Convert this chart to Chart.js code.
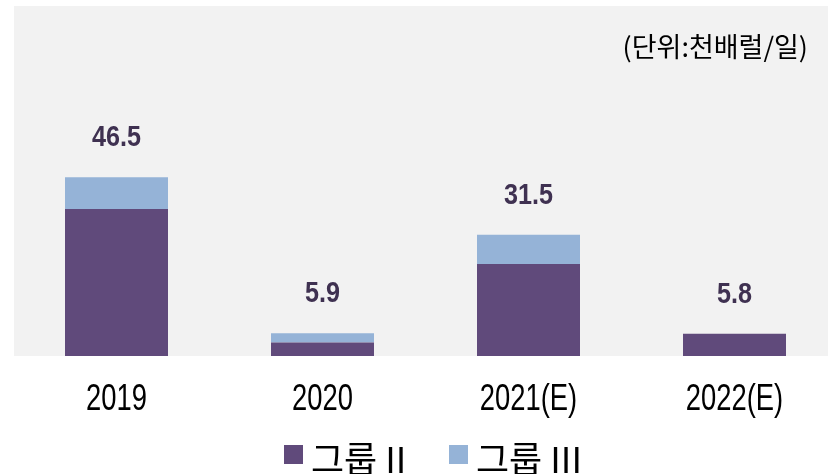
<!DOCTYPE html>
<html>
<head>
<meta charset="utf-8">
<script src="https://cdn.jsdelivr.net/npm/chart.js@4.4.1/dist/chart.umd.min.js"></script>
<style>
  html, body { margin: 0; padding: 0; background: #fff; overflow: hidden; }
  #wrap { width: 840px; height: 474px; }
</style>
</head>
<body>
<div id="wrap"><canvas id="chart" width="840" height="474"></canvas></div>
<script>
// data (thousand barrels / day)
const years = ['2019', '2020', '2021(E)', '2022(E)'];
const groupII = [38.2, 3.5, 23.9, 5.8];
const groupIII = [8.3, 2.4, 7.6, 0];
const totals = [46.5, 5.9, 31.5, 5.8];
const seriesNames = ['그룹 II', '그룹 III'];
const unitLabel = '(단위:천배럴/일)';

const latin = '"Liberation Sans", Arial, sans-serif';
const korean = '"Noto Sans CJK KR", "Noto Sans", sans-serif';

// the original uses a condensed face, squeeze a normal one horizontally
function condensedText(ctx, text, x, y, sx) {
  ctx.save();
  ctx.translate(x, y);
  ctx.scale(sx, 1);
  ctx.fillText(text, 0, 0);
  ctx.restore();
}

// grey plot background
const backdrop = {
  id: 'backdrop',
  beforeDraw(chart) {
    const { ctx, chartArea } = chart;
    ctx.save();
    ctx.fillStyle = '#ffffff';
    ctx.fillRect(0, 0, chart.width, chart.height);
    ctx.fillStyle = '#f2f2f2';
    ctx.fillRect(14, 6, chart.width - 14, chartArea.bottom - 6);
    ctx.restore();
  }
};

// totals above bars, category labels, legend and unit note
const annotations = {
  id: 'annotations',
  afterDraw(chart) {
    const { ctx, scales } = chart;
    ctx.save();

    ctx.fillStyle = '#3f3151';
    ctx.font = 'bold 30px ' + latin;
    ctx.textAlign = 'center';
    ctx.textBaseline = 'alphabetic';
    totals.forEach((v, i) => {
      const x = scales.x.getPixelForValue(i);
      const y = scales.y.getPixelForValue(v);
      condensedText(ctx, v.toFixed(1), x, y - 31, 0.84);
    });

    ctx.fillStyle = '#000';
    ctx.font = '36px ' + latin;
    years.forEach((label, i) => {
      const x = scales.x.getPixelForTick(i);
      condensedText(ctx, label, x, 410, 0.76);
    });

    ctx.font = '27px ' + korean;
    ctx.textAlign = 'right';
    ctx.textBaseline = 'middle';
    ctx.fillText(unitLabel, 808, 47);

    // legend
    const legendX = [284, 449];
    ctx.textAlign = 'left';
    ctx.font = '36px ' + korean;
    chart.data.datasets.forEach((ds, i) => {
      ctx.fillStyle = ds.backgroundColor;
      ctx.fillRect(legendX[i], 445, 19, 19);
      ctx.fillStyle = '#000';
      ctx.fillText(ds.label, legendX[i] + 27, 459);
    });

    ctx.restore();
  }
};

const ctx = document.getElementById('chart').getContext('2d');
new Chart(ctx, {
  type: 'bar',
  data: {
    labels: years,
    datasets: [
      {
        label: seriesNames[0],
        data: groupII,
        backgroundColor: '#604a7b',
        borderWidth: 0,
      },
      {
        label: seriesNames[1],
        data: groupIII,
        backgroundColor: '#95b3d7',
        borderWidth: 0,
      },
    ],
  },
  options: {
    responsive: false,
    animation: false,
    layout: { padding: { left: 13.5, right: 2.5, top: 6, bottom: 118 } },
    datasets: { bar: { barPercentage: 0.5, categoryPercentage: 1 } },
    scales: {
      x: {
        stacked: true,
        grid: { display: false, drawTicks: false },
        border: { display: false },
        ticks: { display: false },
        afterFit(scale) { scale.height = 0; },
      },
      y: {
        stacked: true,
        display: false,
        min: 0,
        max: 91,
      },
    },
    plugins: {
      legend: { display: false },
      tooltip: { enabled: false },
    },
  },
  plugins: [backdrop, annotations],
});
</script>
</body>
</html>
